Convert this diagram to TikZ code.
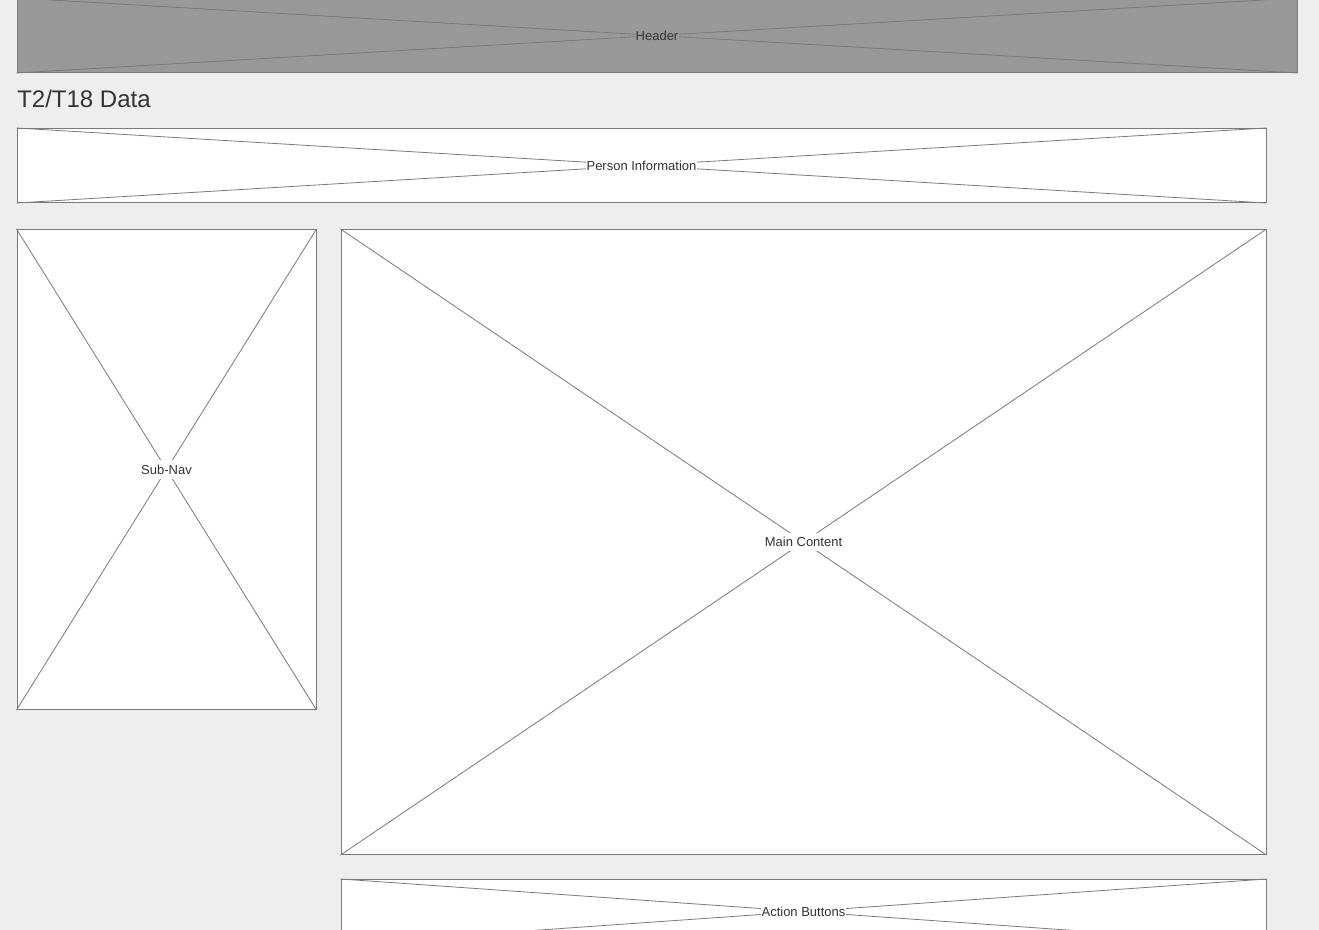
\documentclass[tikz,border=0pt]{standalone}
\usepackage{fontspec}
\setmainfont{Liberation Sans}
\definecolor{pagebg}{HTML}{EEEEEE}
\definecolor{headgray}{HTML}{999999}
\definecolor{wiregray}{HTML}{7A7A7A}
\definecolor{inkgray}{HTML}{333333}
\tikzset{
  frame/.style={draw=wiregray, line width=0.75pt, fill=white, inner sep=0pt},
  cross/.style={draw=wiregray, line width=0.6pt},
  tag/.style={font=\fontsize{9.75pt}{11pt}\selectfont, text=inkgray, fill=white, inner xsep=0.5pt, inner ysep=3.5pt}
}
\begin{document}
\begin{tikzpicture}[x=0.75pt, y=-0.75pt]
  \fill[pagebg] (0,0) rectangle (1319,930);
  \useasboundingbox (0,0) rectangle (1319,930);
  % header bar
  \node[frame, fill=headgray, minimum width=960pt, minimum height=55.5pt] (header) at (657,35.5) {};
  \draw[cross] (header.north west) -- (header.south east) (header.north east) -- (header.south west);
  \node[tag, fill=headgray] (headertag) at (header) {Header};
  % page title
  \node[anchor=base west, inner sep=0pt, font=\fontsize{18pt}{21pt}\selectfont, text=inkgray] (title) at (17,107.5) {T2/T18 Data};
  % person information
  \node[frame, minimum width=936.75pt, minimum height=55.5pt] (person) at (641.5,165.5) {};
  \draw[cross] (person.north west) -- (person.south east) (person.north east) -- (person.south west);
  \node[tag] (persontag) at (person) {Person Information};
  % sub navigation
  \node[frame, minimum width=224.25pt, minimum height=360pt] (subnav) at (166.5,469.5) {};
  \draw[cross] (subnav.north west) -- (subnav.south east) (subnav.north east) -- (subnav.south west);
  \node[tag] (subnavtag) at (subnav) {Sub-Nav};
  % main content
  \node[frame, minimum width=693.75pt, minimum height=468.75pt] (main) at (803.5,542) {};
  \draw[cross] (main.north west) -- (main.south east) (main.north east) -- (main.south west);
  \node[tag] (maintag) at (main) {Main Content};
  % action buttons
  \node[frame, minimum width=693.75pt, minimum height=48pt] (actions) at (803.5,911.5) {};
  \draw[cross] (actions.north west) -- (actions.south east) (actions.north east) -- (actions.south west);
  \node[tag] (actionstag) at (actions) {Action Buttons};
\end{tikzpicture}
\end{document}
